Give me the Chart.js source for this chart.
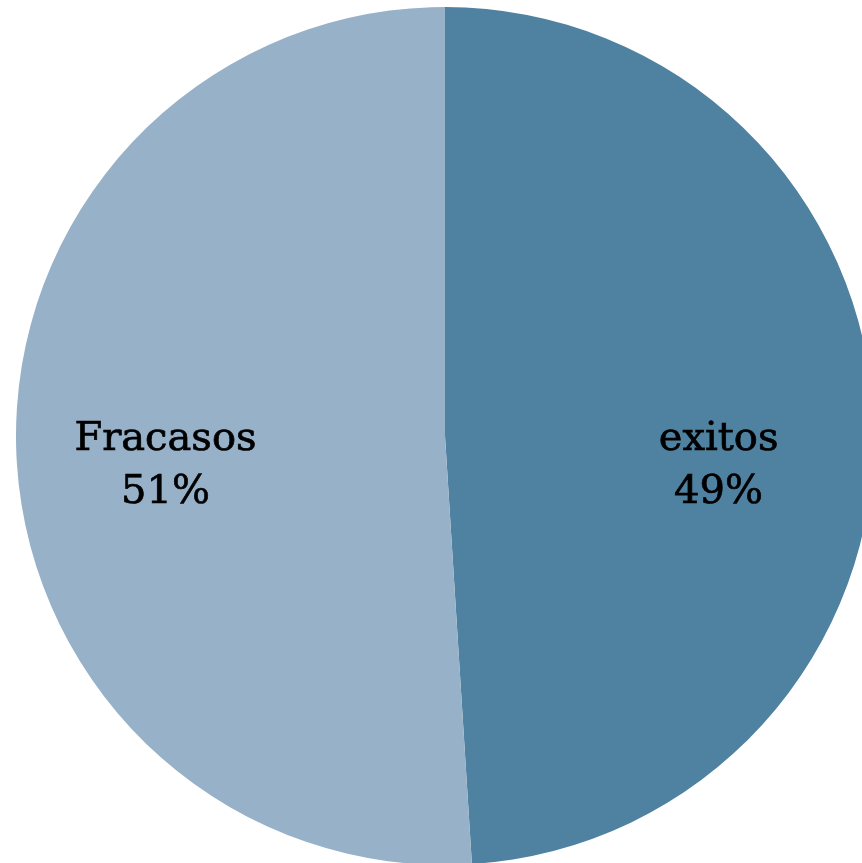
<!DOCTYPE html>
<html>
<head>
<meta charset="utf-8">
<script src="https://cdn.jsdelivr.net/npm/chart.js@4"></script>
<style>
  html, body { margin: 0; padding: 0; background: #ffffff; overflow: hidden; width: 862px; height: 863px; }
  #caja { position: absolute; left: 16px; top: 7px; width: 858px; height: 858px; }
</style>
</head>
<body>
<div id="caja"><canvas id="graficoTorta"></canvas></div>
<script>
const categorias = ["exitos", "Fracasos"];
const porcentajes = [49, 51];
const colores = ["#4f81a1", "#97b1c9"];

// etiquetas dentro de cada porción: nombre y porcentaje
const etiquetasTorta = {
  id: "etiquetasTorta",
  afterDatasetsDraw(chart) {
    const ctx = chart.ctx;
    const meta = chart.getDatasetMeta(0);
    ctx.save();
    ctx.fillStyle = "#000000";
    ctx.strokeStyle = "#000000";
    ctx.lineWidth = 0.7;
    ctx.font = "40px 'DejaVu Serif'";
    ctx.textAlign = "center";
    ctx.textBaseline = "alphabetic";
    meta.data.forEach((arco, i) => {
      const p = arco.getProps(["x", "y", "startAngle", "endAngle", "outerRadius"], true);
      const medio = (p.startAngle + p.endAngle) / 2;
      const x = p.x + Math.cos(medio) * p.outerRadius * 0.645 - 3;
      const y = p.y + 14;
      [categorias[i], porcentajes[i] + "%"].forEach((texto, j) => {
        ctx.fillText(texto, x, y + j * 53);
        ctx.strokeText(texto, x, y + j * 53);
      });
    });
    ctx.restore();
  }
};

new Chart(document.getElementById("graficoTorta"), {
  type: "pie",
  data: {
    labels: categorias,
    datasets: [{
      data: porcentajes,
      backgroundColor: colores,
      borderWidth: 0
    }]
  },
  options: {
    responsive: true,
    maintainAspectRatio: false,
    animation: false,
    layout: { padding: 0 },
    plugins: {
      legend: { display: false },
      tooltip: { enabled: false }
    }
  },
  plugins: [etiquetasTorta]
});
</script>
</body>
</html>
